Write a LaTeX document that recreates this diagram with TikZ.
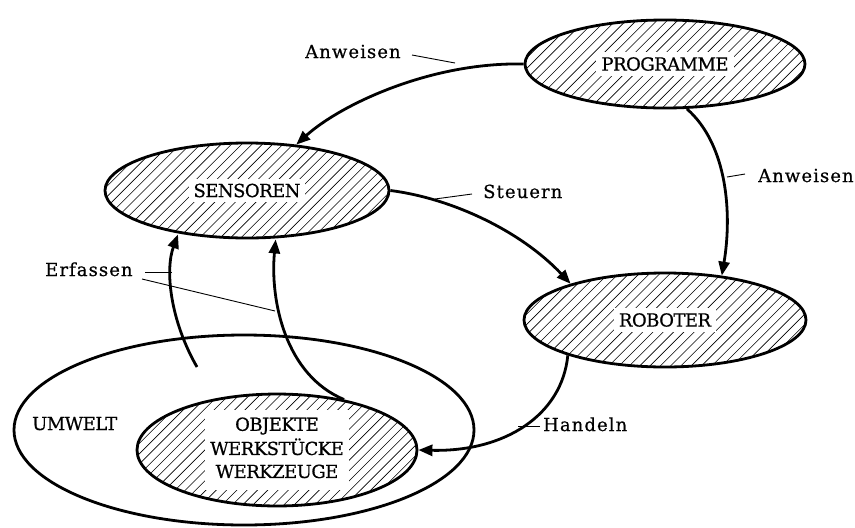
\documentclass[tikz,border=0pt]{standalone}
\usepackage{fontspec}
\setmainfont{DejaVu Serif}[FakeBold=0.6]
\usetikzlibrary{shapes.geometric,arrows.meta}
\setlength{\fboxsep}{5pt}
\tikzset{
  hatched/.style={ellipse, draw, line width=2.8pt, inner sep=0pt,
    path picture={
      \foreach \i in {-24,...,24}
        \draw[line width=0.6pt] ([xshift=\i*10.3pt-150pt,yshift=-150pt]path picture bounding box.center) -- ++(300pt,300pt);
    }},
  plain/.style={ellipse, draw, line width=2.8pt, inner sep=0pt},
  txt/.style={font=\fontsize{18}{22}\selectfont\addfontfeatures{LetterSpace=-3}, inner sep=0pt},
  lab/.style={font=\fontsize{18}{22}\selectfont\addfontfeatures{LetterSpace=6}, inner sep=0pt, anchor=base west},
  flow/.style={line width=2.8pt, -{Triangle[length=14pt,width=11pt]}},
  leader/.style={line width=0.9pt},
}
\begin{document}
\begin{tikzpicture}[x=1pt,y=-1pt]
\useasboundingbox (0,0) rectangle (855,528);
% environment
\node[plain, minimum width=460pt, minimum height=190pt] (umw) at (244,430) {};
\node[txt, anchor=base west] (umwt) at (32,430) {UMWELT};
% hatched ellipses
\node[hatched, txt, minimum width=280pt, minimum height=88pt] (prog) at (665,64) {\colorbox{white}{PROGRAMME}};
\node[hatched, txt, minimum width=284pt, minimum height=95pt] (sens) at (247,190.5) {\colorbox{white}{SENSOREN}};
\node[hatched, txt, minimum width=282pt, minimum height=94pt] (rob) at (665,320) {\colorbox{white}{ROBOTER}};
\node[hatched, txt, minimum width=280pt, minimum height=96pt, align=center] (obj) at (277,450)
  {\colorbox{white}{\begin{tabular}{@{}c@{}}OBJEKTE\\[1pt]WERKSTÜCKE\\[1pt]WERKZEUGE\end{tabular}}};
% flows
\draw[flow] (prog.west) .. controls (430,62) and (340,105) .. (sens.43);
\draw[flow] (prog.-64) .. controls (728,145) and (732,215) .. (rob.38);
\draw[flow] (sens.east) .. controls (450,198) and (520,230) .. (rob.159);
\draw[flow] (rob.200) .. controls (562,415) and (505,452) .. (obj.east);
\coordinate (e5s) at (197,367);
\draw[flow, shorten >=1pt] (e5s) .. controls (170,320) and (165,270) .. (sens.212);
\draw[flow, shorten >=1pt] (obj.37) .. controls (285,375) and (270,300) .. (sens.-59);
% labels
\node[lab] (l1) at (305,58) {Anweisen};
\node[lab] (l2) at (758,182) {Anweisen};
\node[lab] (l3) at (483,198) {Steuern};
\node[lab] (l4) at (45,276) {Erfassen};
\node[lab] (l5) at (543,431) {Handeln};
% leaders
\coordinate (a1) at (412,55); \coordinate (b1) at (455,63);
\coordinate (a2) at (745,174); \coordinate (b2) at (727,177);
\coordinate (a3) at (472,194); \coordinate (b3) at (435,199);
\coordinate (a4) at (145,272); \coordinate (b4) at (172,272);
\coordinate (a5) at (142,279); \coordinate (b5) at (275,311);
\coordinate (a6) at (540,426); \coordinate (b6) at (518,426);
\draw[leader] (a1) -- (b1);
\draw[leader] (a2) -- (b2);
\draw[leader] (a3) -- (b3);
\draw[leader] (a4) -- (b4);
\draw[leader] (a5) -- (b5);
\draw[leader] (a6) -- (b6);
\end{tikzpicture}
\end{document}
